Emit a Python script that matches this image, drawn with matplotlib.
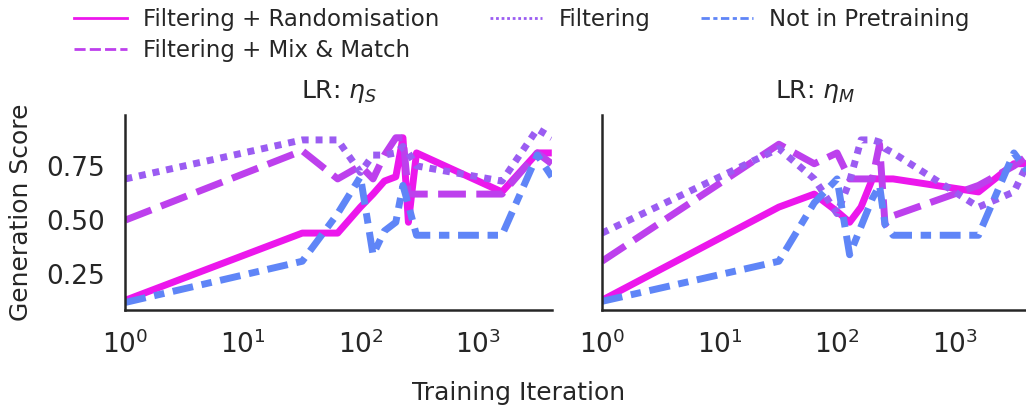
import matplotlib
matplotlib.use("Agg")
import matplotlib.pyplot as plt
from matplotlib.lines import Line2D

# iterations (shared by all series)
iters = [1, 32, 64, 100, 128, 160, 200, 230, 256, 300, 1600, 3200, 4250]

series_names = ["Filtering + Randomisation", "Filtering + Mix & Match",
                "Filtering", "Not in Pretraining"]

# LR: eta_S
s_rand = [0.13, 0.44, 0.44, 0.56, 0.62, 0.68, 0.70, 0.88, 0.49, 0.81, 0.63, 0.81, 0.81]
s_mix = [0.50, 0.82, 0.69, 0.75, 0.69, 0.80, 0.88, 0.88, 0.62, 0.62, 0.62, 0.81, 0.76]
s_filt = [0.69, 0.87, 0.87, 0.72, 0.80, 0.80, 0.81, 0.84, 0.81, 0.75, 0.68, 0.92, 0.88]
s_notpre = [0.12, 0.31, 0.53, 0.70, 0.34, 0.45, 0.49, 0.66, 0.57, 0.43, 0.43, 0.80, 0.70]

# LR: eta_M
m_rand = [0.13, 0.56, 0.62, 0.54, 0.49, 0.56, 0.69, 0.69, 0.69, 0.69, 0.63, 0.76, 0.76]
m_mix = [0.31, 0.85, 0.76, 0.81, 0.69, 0.69, 0.69, 0.85, 0.48, 0.52, 0.66, 0.75, 0.80]
m_filt = [0.44, 0.83, 0.69, 0.53, 0.68, 0.87, 0.87, 0.86, 0.83, 0.81, 0.56, 0.63, 0.77]
m_notpre = [0.125, 0.31, 0.58, 0.69, 0.34, 0.47, 0.60, 0.66, 0.48, 0.43, 0.43, 0.81, 0.72]

colors = ["#ec17ec", "#bd40ed", "#9b5cf2", "#5f85f7"]
dashes = [(None, None), (4, 1.5), (1, 1), (3, 1.25, 1.5, 1.25)]

txt = "#262626"
plt.rcParams["font.family"] = ["DejaVu Sans"]
plt.rcParams["text.color"] = txt
plt.rcParams["axes.labelcolor"] = txt
plt.rcParams["xtick.color"] = txt
plt.rcParams["ytick.color"] = txt

fig = plt.figure(figsize=(10.26, 4.09), dpi=100)
W, H = 1026, 409
ax1 = fig.add_axes([125.4 / W, 1 - 310 / H, 426.4 / W, 195 / H])
ax2 = fig.add_axes([602 / W, 1 - 310 / H, 426.4 / W, 195 / H])

panels = [(ax1, [s_rand, s_mix, s_filt, s_notpre], r"LR: $\eta_S$"),
          (ax2, [m_rand, m_mix, m_filt, m_notpre], r"LR: $\eta_M$")]

for ax, data, title in panels:
    for vals, c, d in zip(data, colors, dashes):
        ln, = ax.plot(iters, vals, color=c, lw=5.0, solid_capstyle="butt")
        if d[0] is not None:
            ln.set_dashes(d)
    ax.set_xscale("log")
    ax.set_xlim(1, 4250)
    ax.set_ylim(0.085, 0.985)
    ax.set_yticks([0.25, 0.5, 0.75])
    ax.set_title(title, fontsize=18, pad=12)
    for s in ["top", "right"]:
        ax.spines[s].set_visible(False)
    for s in ["left", "bottom"]:
        ax.spines[s].set_color(txt)
        ax.spines[s].set_linewidth(1.8)
    ax.tick_params(axis="both", length=0, labelsize=19, pad=15)
    ax.minorticks_off()

ax2.set_yticklabels([])
ax1.set_ylabel("Generation Score", fontsize=18, labelpad=9)
fig.text(0.505, 0.04, "Training Iteration", ha="center", va="center", fontsize=18)

handles = []
for c, d in zip(colors, dashes):
    h = Line2D([0], [0], color=c, lw=2)
    if d[0] is not None:
        h.set_dashes(d)
    handles.append(h)

fig.legend(handles, series_names, loc="upper left", bbox_to_anchor=(0.052, 1.03),
           ncol=3, frameon=False, fontsize=16.5, handlelength=2.3,
           handletextpad=0.7, columnspacing=2.2, labelspacing=0.32)

fig.savefig("out.png", dpi=100)
